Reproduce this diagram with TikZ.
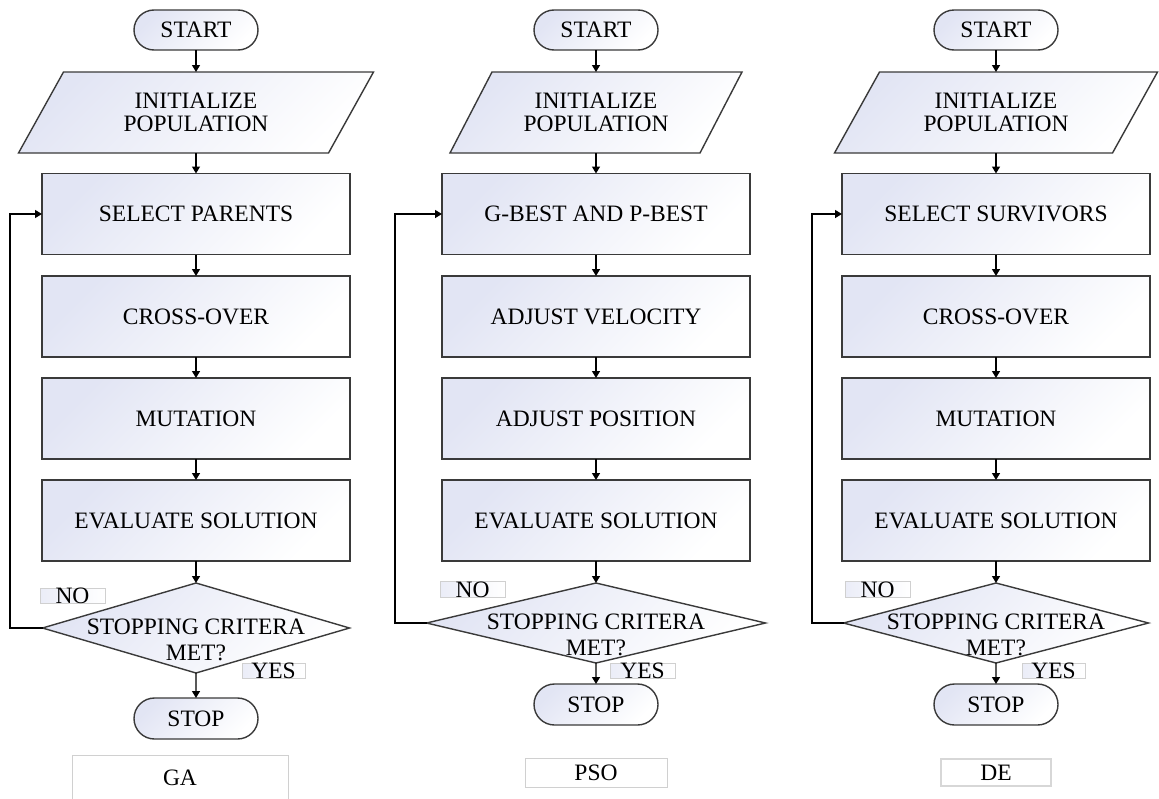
\documentclass[tikz,border=0pt]{standalone}
\usepackage{fontspec}
\setmainfont{Liberation Serif}
\usetikzlibrary{shapes.geometric,shapes.misc,arrows.meta}
\pgfdeclarelayer{bg}
\pgfsetlayers{bg,main}
\definecolor{lav}{RGB}{226,229,244}
\definecolor{bdr}{RGB}{58,58,58}
\definecolor{lgr}{RGB}{208,208,208}
\newcommand{\critText}{\smash{\raisebox{-32pt}{\makebox[0pt]{\begin{tabular}[b]{@{}c@{}}STOPPING CRITERA\\MET?\end{tabular}}}}}
\tikzset{
 txt/.style={font=\fontsize{23.5}{26}\selectfont},
 base/.style={txt, draw=bdr, line width=1.4pt, left color=lav, right color=white, shading angle=45, inner sep=0pt, outer sep=0pt},
 procbox/.style={base, rectangle, minimum width=308pt, minimum height=81pt},
 term/.style={base, rounded rectangle, minimum width=124pt, minimum height=40pt},
 iobox/.style={rectangle, inner sep=0pt, outer sep=0pt, minimum height=81pt, align=center, font=\fontsize{23.5}{22.5}\selectfont},
 para/.style={draw=bdr, line width=1.4pt, left color=lav, right color=white, shading angle=45},
 decision/.style={base, diamond},
 tag/.style={txt, draw=lgr, line width=0.8pt, left color=lav!70, right color=white, inner sep=0pt, minimum width=65pt, minimum height=15pt, text height=15pt, text depth=0pt},
 algo/.style={txt, draw=lgr, line width=0.8pt, fill=white, inner sep=0pt},
 arr/.style={draw=black, line width=1.4pt, -{Triangle[length=7pt,width=8pt]}},
}
\begin{document}
\begin{tikzpicture}[x=1pt,y=-1pt]
\useasboundingbox (0,0) rectangle (1159,798);

% ---------------- GA ----------------
\node[term] (startA) at (196,30) {START};
\node[iobox, minimum width=310pt] (initA) at (196,112.5) {INITIALIZE\\POPULATION};
\node[procbox] (selA) at (196,214) {SELECT PARENTS};
\node[procbox] (crossA) at (196,316.5) {CROSS-OVER};
\node[procbox] (mutA) at (196,418.5) {MUTATION};
\node[procbox] (evalA) at (196,520.5) {EVALUATE SOLUTION};
\node[decision, minimum width=307pt, minimum height=90pt] (critA) at (196,628) {\critText};
\node[term, minimum height=41pt] (stopA) at (196,718.5) {STOP};
\node[tag] (noA) at (72.5,595.5) {NO};
\node[tag, minimum width=63pt] (yesA) at (273.5,670.5) {YES};
\node[algo, minimum width=216pt, minimum height=46pt] (gaLbl) at (180,778) {GA};
\coordinate (loopA) at (10,214);

% ---------------- PSO ----------------
\node[term] (startP) at (596,30) {START};
\node[iobox, minimum width=250pt] (initP) at (596,112.5) {INITIALIZE\\POPULATION};
\node[procbox] (selP) at (596,214) {G-BEST AND P-BEST};
\node[procbox] (crossP) at (596,316.5) {ADJUST VELOCITY};
\node[procbox] (mutP) at (596,418.5) {ADJUST POSITION};
\node[procbox] (evalP) at (596,520.5) {EVALUATE SOLUTION};
\node[decision, minimum width=339pt, minimum height=80pt] (critP) at (596,623) {\critText};
\node[term, minimum height=41pt] (stopP) at (596,704.5) {STOP};
\node[tag, minimum height=16pt, text height=16pt] (noP) at (472.5,589) {NO};
\node[tag] (yesP) at (642.5,670.5) {YES};
\node[algo, minimum width=142pt, minimum height=29pt] (psoLbl) at (596,772.5) {PSO};
\coordinate (loopP) at (395,214);

% ---------------- DE ----------------
\node[term] (startD) at (996,30) {START};
\node[iobox, minimum width=278pt] (initD) at (996,112.5) {INITIALIZE\\POPULATION};
\node[procbox] (selD) at (996,214) {SELECT SURVIVORS};
\node[procbox] (crossD) at (996,316.5) {CROSS-OVER};
\node[procbox] (mutD) at (996,418.5) {MUTATION};
\node[procbox] (evalD) at (996,520.5) {EVALUATE SOLUTION};
\node[decision, minimum width=305pt, minimum height=80pt] (critD) at (996,623) {\critText};
\node[term, minimum height=41pt] (stopD) at (996,704.5) {STOP};
\node[tag, minimum height=16pt, text height=16pt] (noD) at (877.5,589) {NO};
\node[tag, minimum width=63pt] (yesD) at (1053.5,670.5) {YES};
\node[algo, draw=lgr!85, line width=2.5pt, minimum width=110pt, minimum height=27pt] (deLbl) at (996,772.5) {DE};
\coordinate (loopD) at (812,214);

% parallelogram outlines behind the text
\begin{pgfonlayer}{bg}
\path[para] ([xshift=22.5pt]initA.north west) -- ([xshift=22.5pt]initA.north east) -- ([xshift=-22.5pt]initA.south east) -- ([xshift=-22.5pt]initA.south west) -- cycle;
\path[para] ([xshift=21pt]initP.north west) -- ([xshift=21pt]initP.north east) -- ([xshift=-21pt]initP.south east) -- ([xshift=-21pt]initP.south west) -- cycle;
\path[para] ([xshift=22.5pt]initD.north west) -- ([xshift=22.5pt]initD.north east) -- ([xshift=-22.5pt]initD.south east) -- ([xshift=-22.5pt]initD.south west) -- cycle;
\end{pgfonlayer}

% connectors
\foreach \c in {A,P,D}{
  \draw[arr] (start\c) -- (init\c);
  \draw[arr] (init\c) -- (sel\c);
  \draw[arr] (sel\c) -- (cross\c);
  \draw[arr] (cross\c) -- (mut\c);
  \draw[arr] (mut\c) -- (eval\c);
  \draw[arr] (eval\c) -- (crit\c);
  \draw[arr] (crit\c) -- (stop\c);
  \draw[arr] (crit\c.west) -| (loop\c) -- (sel\c.west);
}
\end{tikzpicture}
\end{document}
